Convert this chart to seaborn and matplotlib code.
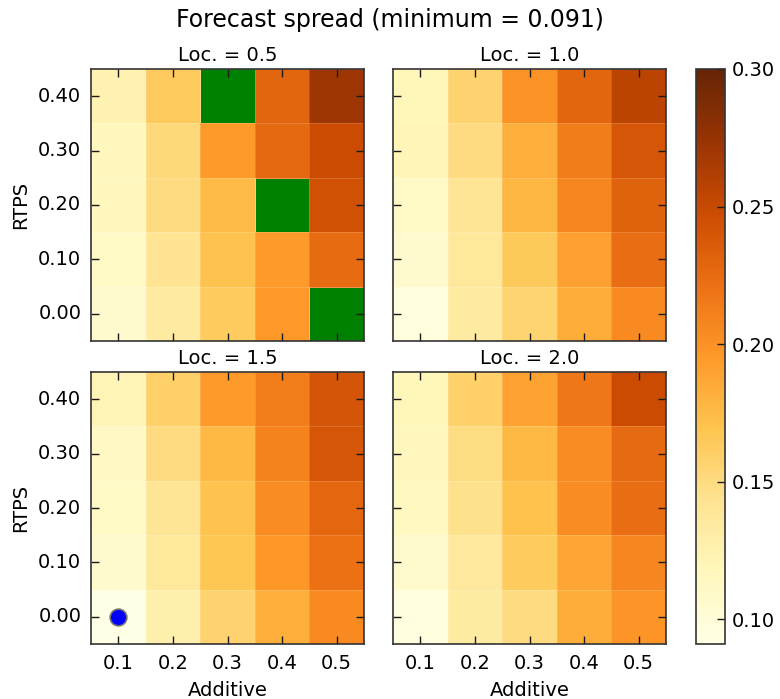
import numpy as np
import pandas as pd
import matplotlib
matplotlib.use("Agg")
import matplotlib.pyplot as plt
import seaborn as sns

plt.rcParams["font.family"] = ["DejaVu Sans"]
plt.rcParams["text.color"] = "black"
plt.rcParams["axes.labelcolor"] = "black"
plt.rcParams["xtick.color"] = "black"
plt.rcParams["ytick.color"] = "black"

# Grid of inflation settings
additive = [0.1, 0.2, 0.3, 0.4, 0.5]
rtps = [0.40, 0.30, 0.20, 0.10, 0.00]          # top row first
localisation = [0.5, 1.0, 1.5, 2.0]

# Forecast spread per localisation (rows = RTPS, cols = additive); NaN = diverged
spread_loc05 = [
    [0.125, 0.164, np.nan, 0.229, 0.271],
    [0.116, 0.152, 0.195, 0.227, 0.248],
    [0.116, 0.150, 0.175, np.nan, 0.244],
    [0.112, 0.142, 0.170, 0.195, 0.225],
    [0.106, 0.135, 0.163, 0.196, np.nan],
]
spread_loc10 = [
    [0.118, 0.157, 0.200, 0.229, 0.256],
    [0.120, 0.150, 0.183, 0.214, 0.240],
    [0.112, 0.140, 0.178, 0.208, 0.232],
    [0.107, 0.137, 0.165, 0.191, 0.224],
    [0.098, 0.134, 0.156, 0.184, 0.205],
]
spread_loc15 = [
    [0.122, 0.159, 0.195, 0.213, 0.241],
    [0.113, 0.150, 0.176, 0.210, 0.240],
    [0.112, 0.140, 0.170, 0.203, 0.228],
    [0.107, 0.137, 0.168, 0.197, 0.221],
    [0.091, 0.127, 0.157, 0.183, 0.205],
]
spread_loc20 = [
    [0.118, 0.158, 0.190, 0.217, 0.248],
    [0.116, 0.149, 0.176, 0.204, 0.226],
    [0.114, 0.145, 0.171, 0.203, 0.224],
    [0.108, 0.136, 0.163, 0.188, 0.207],
    [0.096, 0.133, 0.150, 0.184, 0.198],
]
spreads = [spread_loc05, spread_loc10, spread_loc15, spread_loc20]

vmin_val, vmax_val = 0.091, 0.30
cbar_ticks = [0.10, 0.15, 0.20, 0.25, 0.30]

all_vals = np.array(spreads, dtype=float)
min_idx = np.unravel_index(np.nanargmin(all_vals), all_vals.shape)
min_val = np.nanmin(all_vals)

fig = plt.figure(figsize=(7.8, 6.99), dpi=100)

W, H = 780.0, 699.0
positions = [
    (91, 69), (393, 69),
    (91, 372), (393, 372),
]
aw, ah = 273, 272
axes = []
for k, (px, py) in enumerate(positions):
    ax = fig.add_axes([px / W, 1 - (py + ah) / H, aw / W, ah / H])
    axes.append(ax)

fs = 14
spine_color = "0.2"
mesh = None
for k, ax in enumerate(axes):
    df = pd.DataFrame(spreads[k], index=[f"{r:.2f}" for r in rtps],
                      columns=[f"{a:.1f}" for a in additive])
    ax.set_facecolor("green")
    sns.heatmap(df, ax=ax, cmap="YlOrBr", vmin=vmin_val, vmax=vmax_val,
                cbar=False, linewidths=0.6, linecolor=(1, 1, 1, 0.15))
    mesh = ax.collections[0]
    ax.set_axisbelow(False)
    ax.set_title(f"Loc. = {localisation[k]}", fontsize=fs, pad=6)
    for s in ax.spines.values():
        s.set_visible(True)
        s.set_color(spine_color)
        s.set_linewidth(1.2)
        s.set_zorder(3)
    ax.tick_params(direction="in", length=6, width=1, color="0.1",
                   top=True, right=True, bottom=True, left=True,
                   labelsize=fs, pad=7)
    ax.tick_params(axis="y", labelrotation=0)
    ax.tick_params(axis="x", labelrotation=0)
    if k in (0, 2):
        ax.set_ylabel("RTPS", fontsize=fs, labelpad=6)
    else:
        ax.set_ylabel("")
        ax.set_yticklabels([])
    if k in (2, 3):
        ax.set_xlabel("Additive", fontsize=fs, labelpad=6)
    else:
        ax.set_xlabel("")
        ax.set_xticklabels([])
    if k == min_idx[0]:
        ax.plot(min_idx[2] + 0.5, min_idx[1] + 0.5, "o", color="blue",
                markersize=12, markeredgecolor="0.45", markeredgewidth=1.2,
                zorder=4)

cax = fig.add_axes([696 / W, 1 - 644 / H, 29 / W, 575 / H])
cb = fig.colorbar(mesh, cax=cax, ticks=cbar_ticks)
cb.ax.set_yticklabels([f"{t:.2f}" for t in cbar_ticks])
cb.ax.tick_params(direction="in", length=6, width=1, labelsize=fs, color="0.1",
                  pad=5)
cb.outline.set_edgecolor(spine_color)
cb.outline.set_linewidth(1.2)

fig.suptitle(f"Forecast spread (minimum = {min_val:.3f})", fontsize=17, y=0.988)

fig.savefig("out.png", dpi=100)
